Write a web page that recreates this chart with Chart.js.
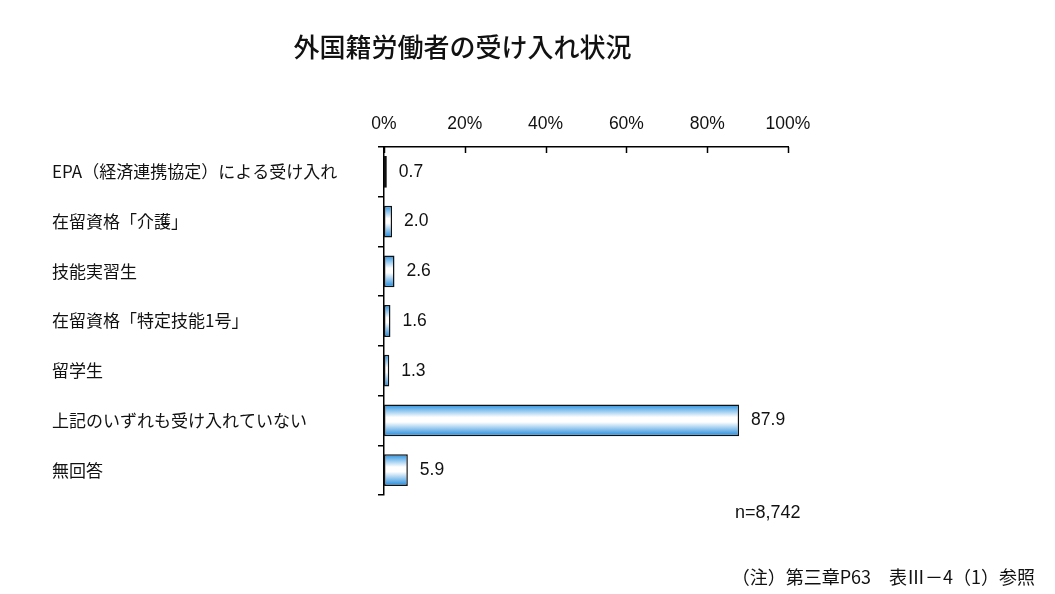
<!DOCTYPE html>
<html lang="ja">
<head>
    <meta charset="UTF-8">
    <title>外国籍労働者の受け入れ状況</title>
    <script src="https://cdn.jsdelivr.net/npm/chart.js"></script>
    <style>
        body {
            margin: 0;
            padding: 0;
            background: #fff;
            font-family: "Noto Sans CJK JP", "Liberation Sans", sans-serif;
        }

        .wrap {
            position: relative;
            width: 1055px;
            height: 594px;
        }

        .title {
            position: absolute;
            left: 0;
            width: 925px;
            top: 27px;
            text-align: center;
            font-size: 26px;
            font-weight: 500;
            color: #111;
        }

        .n-note {
            position: absolute;
            left: 735px;
            top: 502px;
            font-family: "Liberation Sans", Arial, sans-serif;
            font-size: 18px;
            color: #111;
        }

        .source {
            position: absolute;
            right: 20px;
            top: 563px;
            font-size: 18px;
            color: #111;
        }
    </style>
</head>
<body>
    <div class="wrap">
        <div class="title">外国籍労働者の受け入れ状況</div>
        <canvas id="chart" width="1055" height="594"></canvas>
        <div class="n-note">n=8,742</div>
        <div class="source">（注）第三章P63　表Ⅲ－4（1）参照</div>
    </div>

    <script>
        // データ
        const categories = [
            "EPA（経済連携協定）による受け入れ",
            "在留資格「介護」",
            "技能実習生",
            "在留資格「特定技能1号」",
            "留学生",
            "上記のいずれも受け入れていない",
            "無回答"
        ];
        const values = [0.7, 2.0, 2.6, 1.6, 1.3, 87.9, 5.9];
        const xTicks = [0, 20, 40, 60, 80, 100];

        // 棒のグラデーション（上下が青、中央が白）
        function barGradient(context) {
            const chart = context.chart;
            const y = chart.scales && chart.scales.y;
            if (!chart.chartArea || !y) return "#4aa3e8";
            const cy = y.getPixelForValue(context.dataIndex);
            const half = 16;
            const g = chart.ctx.createLinearGradient(0, cy - half, 0, cy + half);
            g.addColorStop(0, "#2590e0");
            g.addColorStop(0.4, "#ffffff");
            g.addColorStop(0.55, "#ffffff");
            g.addColorStop(1, "#1a86da");
            return g;
        }

        // 数値ラベルと上軸の内向き目盛り
        const extras = {
            id: "extras",
            afterDatasetsDraw(chart) {
                const ctx = chart.ctx;
                const meta = chart.getDatasetMeta(0);
                ctx.save();
                ctx.fillStyle = "#111";
                ctx.font = "17.5px 'Liberation Sans', Arial, sans-serif";
                ctx.textBaseline = "middle";
                ctx.textAlign = "left";
                meta.data.forEach((bar, i) => {
                    ctx.fillText(values[i].toFixed(1), bar.x + 12, bar.y);
                });

                const x = chart.scales.x;
                const top = chart.chartArea.top;
                ctx.strokeStyle = "#000";
                ctx.lineWidth = 1.5;
                xTicks.forEach(v => {
                    const px = Math.round(x.getPixelForValue(v)) + 0.5;
                    ctx.beginPath();
                    ctx.moveTo(px, top);
                    ctx.lineTo(px, top + 6);
                    ctx.stroke();
                });
                ctx.restore();
            }
        };

        const ctx = document.getElementById("chart").getContext("2d");
        new Chart(ctx, {
            type: "bar",
            data: {
                labels: categories,
                datasets: [{
                    data: values,
                    backgroundColor: barGradient,
                    borderColor: "#111",
                    borderWidth: 1.5,
                    borderSkipped: false,
                    barPercentage: 0.64,
                    categoryPercentage: 1
                }]
            },
            options: {
                indexAxis: "y",
                responsive: false,
                animation: false,
                layout: {
                    padding: { left: 52, right: 267, top: 107, bottom: 99 }
                },
                plugins: {
                    legend: { display: false },
                    tooltip: { enabled: false }
                },
                scales: {
                    x: {
                        position: "top",
                        min: 0,
                        max: 100,
                        afterFit(scale) { scale.height = 40; },
                        afterBuildTicks(scale) {
                            scale.ticks = xTicks.map(v => ({ value: v }));
                        },
                        grid: { display: false, drawTicks: false },
                        border: { display: true, color: "#000", width: 1.5 },
                        ticks: {
                            padding: 12,
                            color: "#111",
                            font: { family: "'Liberation Sans', Arial, sans-serif", size: 17.5 },
                            callback: v => v + "%"
                        }
                    },
                    y: {
                        afterFit(scale) { scale.width = 332; },
                        grid: {
                            display: true,
                            drawOnChartArea: false,
                            tickLength: 6,
                            color: "#000",
                            lineWidth: 1.5,
                            offset: true
                        },
                        border: { display: true, color: "#000", width: 1.5 },
                        ticks: {
                            crossAlign: "far",
                            color: "#111",
                            font: { family: "'Noto Sans CJK JP', sans-serif", size: 17 }
                        }
                    }
                }
            },
            plugins: [extras]
        });
    </script>
</body>
</html>
